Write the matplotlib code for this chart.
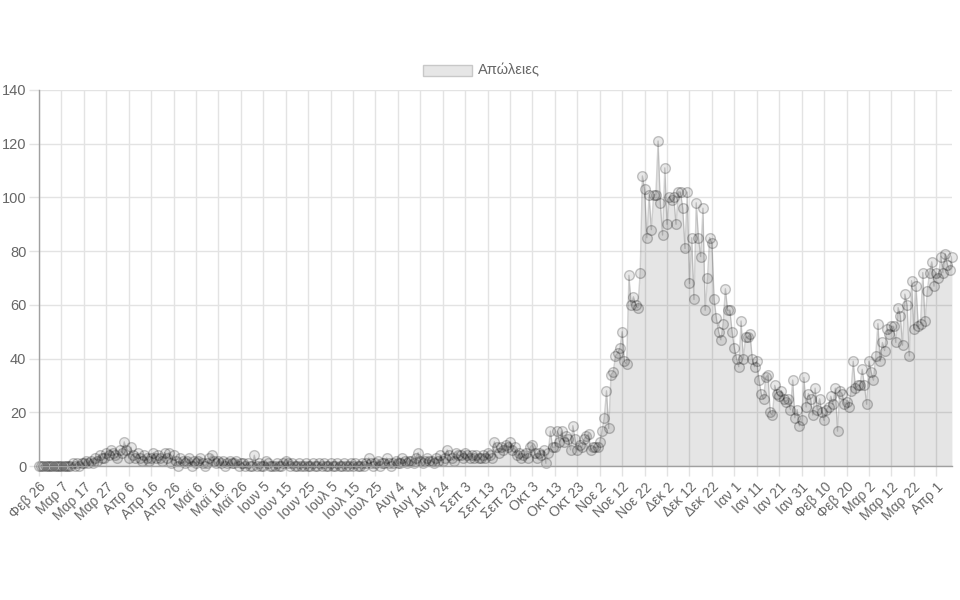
import numpy as np
import pandas as pd
import matplotlib
matplotlib.use("Agg")
import matplotlib.pyplot as plt
from matplotlib.patches import Rectangle

plt.rcParams["font.family"] = ["Liberation Sans", "DejaVu Sans"]

# Daily deaths (Feb 26 2020 - Apr 8 2021)
feb_mar_2020 = [0] * 15 + [1, 0, 1, 0, 1, 1, 2, 1, 2, 1,
                           3, 2, 4, 3, 3, 5, 4, 6, 5, 4]
apr_2020 = [3, 6, 5, 9, 6, 3, 7, 4, 3, 5,
            3, 2, 4, 3, 2, 3, 5, 3, 4, 3,
            2, 5, 3, 5, 1, 4, 2, 0, 3, 2]
may_2020 = [1, 2, 3, 0, 2, 1, 2, 3, 1, 0,
            1, 3, 4, 2, 1, 2, 1, 2, 0, 1,
            2, 1, 1, 2, 0, 1, 1, 0, 1, 0, 0]
jun_2020 = [4, 0, 1, 0, 0, 2, 1, 0, 0, 0,
            1, 0, 0, 1, 2, 1, 0, 1, 0, 0,
            1, 0, 0, 1, 0, 0, 1, 0, 0, 1]
jul_2020 = [0, 1, 0, 0, 1, 0, 0, 1, 0, 0,
            1, 0, 0, 1, 0, 1, 0, 0, 1, 0,
            1, 3, 1, 0, 1, 2, 0, 1, 1, 3, 1]
aug_2020 = [0, 1, 2, 1, 1, 3, 2, 1, 2, 2,
            1, 3, 5, 2, 1, 2, 3, 2, 2, 1,
            3, 2, 4, 2, 3, 6, 4, 3, 2, 5, 4]
sep_2020 = [4, 3, 5, 4, 3, 4, 3, 4, 3, 3,
            4, 3, 5, 4, 3, 9, 7, 5, 7, 6,
            8, 7, 9, 6, 7, 4, 5, 3, 4, 5]
oct_2020 = [3, 7, 8, 5, 3, 5, 4, 6, 1, 5,
            13, 7, 7, 13, 9, 13, 9, 11, 10, 6,
            15, 10, 6, 8, 7, 10, 11, 12, 6, 7, 7]
nov_2020 = [7, 9, 13, 18, 28, 14, 34, 35, 41, 42,
            44, 50, 39, 38, 71, 60, 63, 60, 59, 72,
            108, 103, 85, 101, 88, 101, 101, 121, 98, 86]
dec_2020 = [111, 90, 100, 99, 100, 90, 102, 102, 96, 81,
            102, 68, 85, 62, 98, 85, 78, 96, 58, 70,
            85, 83, 62, 55, 50, 47, 53, 66, 58, 58, 50]
jan_2021 = [44, 40, 37, 54, 40, 48, 48, 49, 40, 37,
            39, 32, 27, 25, 33, 34, 20, 19, 30, 27,
            26, 28, 25, 24, 25, 21, 32, 18, 21, 15, 17]
feb_2021 = [33, 22, 27, 25, 19, 29, 21, 25, 20, 17,
            21, 22, 26, 23, 29, 13, 28, 27, 23, 24,
            22, 28, 39, 29, 30, 30, 36, 30]
mar_2021 = [23, 39, 35, 32, 41, 53, 39, 46, 43, 51,
            49, 52, 52, 46, 59, 56, 45, 64, 60, 41,
            69, 51, 67, 52, 53, 72, 54, 65, 72, 76, 67]
apr_2021 = [72, 70, 78, 72, 79, 75, 73, 78]

deaths = (feb_mar_2020 + apr_2020 + may_2020 + jun_2020 + jul_2020
          + aug_2020 + sep_2020 + oct_2020 + nov_2020 + dec_2020
          + jan_2021 + feb_2021 + mar_2021 + apr_2021)
dates = pd.date_range("2020-02-26", periods=len(deaths), freq="D")

tick_labels = [
    "Φεβ 26", "Μαρ 7", "Μαρ 17", "Μαρ 27", "Απρ 6", "Απρ 16", "Απρ 26",
    "Μαϊ 6", "Μαϊ 16", "Μαϊ 26", "Ιουν 5", "Ιουν 15", "Ιουν 25",
    "Ιουλ 5", "Ιουλ 15", "Ιουλ 25", "Αυγ 4", "Αυγ 14", "Αυγ 24",
    "Σεπ 3", "Σεπ 13", "Σεπ 23", "Οκτ 3", "Οκτ 13", "Οκτ 23",
    "Νοε 2", "Νοε 12", "Νοε 22", "Δεκ 2", "Δεκ 12", "Δεκ 22",
    "Ιαν 1", "Ιαν 11", "Ιαν 21", "Ιαν 31", "Φεβ 10", "Φεβ 20",
    "Μαρ 2", "Μαρ 12", "Μαρ 22", "Απρ 1",
]
series_label = "Απώλειες"

x = np.arange(len(dates))
y = np.array(deaths)

grid_col = "#e3e3e3"
text_col = "#666666"

fig = plt.figure(figsize=(9.6, 6), dpi=100)
ax = fig.add_axes([0.0406, 0.2233, 0.951, 0.6267])

# chart.js style area + points
ax.fill_between(x, y, 0, color=(0, 0, 0, 0.1), linewidth=0, zorder=2)
ax.plot(x, y, color=(0, 0, 0, 0.18), linewidth=1.0, zorder=3)
ax.plot(x, y, linestyle="none", marker="o", markersize=7,
        markerfacecolor=(0, 0, 0, 0.09), markeredgecolor=(0, 0, 0, 0.22),
        markeredgewidth=1.0, zorder=4, clip_on=False)

ax.set_xlim(0, len(dates) - 1)
ax.set_ylim(0, 140)

ax.set_xticks(np.arange(0, len(dates), 10)[:len(tick_labels)])
ax.set_xticklabels(tick_labels, rotation=45, ha="right",
                   rotation_mode="anchor", fontsize=10, color=text_col)
ax.set_yticks(np.arange(0, 141, 20))
ax.set_yticklabels([str(v) for v in range(0, 141, 20)], fontsize=10.5,
                   color=text_col)

ax.grid(True, color=grid_col, linewidth=1.0, zorder=0)
ax.set_axisbelow(True)
ax.tick_params(axis="both", length=7, width=1.0, color=grid_col, pad=2)
ax.tick_params(axis="x", pad=3)

for side in ["top", "right"]:
    ax.spines[side].set_visible(False)
for side in ["left", "bottom"]:
    ax.spines[side].set_color("#a0a0a0")
    ax.spines[side].set_linewidth(1.0)
    ax.spines[side].set_zorder(5)

# legend at the top, like chart.js
fig.patches.append(Rectangle((423 / 960, 1 - 76 / 600), 49 / 960, 11 / 600,
                             transform=fig.transFigure,
                             facecolor="#e6e6e6", edgecolor="#c8c8c8",
                             linewidth=1.0))
fig.text(478 / 960, 1 - 70.5 / 600, series_label, fontsize=10.5,
         color=text_col, va="center", ha="left")

fig.savefig("out.png", dpi=100)
